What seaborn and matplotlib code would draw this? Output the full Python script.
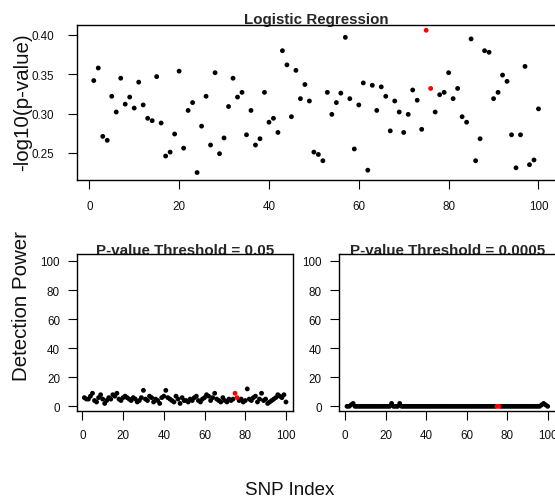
import matplotlib
matplotlib.use("Agg")
import matplotlib.pyplot as plt
import numpy as np
import pandas as pd
import seaborn as sns

# SNP positions along the simulated region
snp_index = list(range(1, 101))

# -log10 p-values from the logistic regression scan
neg_log10_p = [
    0.342, 0.358, 0.271, 0.266, 0.322, 0.302, 0.345, 0.312, 0.321, 0.307,
    0.340, 0.311, 0.294, 0.291, 0.347, 0.288, 0.246, 0.251, 0.274, 0.354,
    0.256, 0.304, 0.314, 0.225, 0.284, 0.322, 0.260, 0.352, 0.249, 0.269,
    0.309, 0.345, 0.321, 0.327, 0.273, 0.304, 0.260, 0.268, 0.327, 0.289,
    0.294, 0.276, 0.380, 0.362, 0.296, 0.355, 0.319, 0.337, 0.316, 0.251,
    0.248, 0.240, 0.327, 0.299, 0.314, 0.326, 0.397, 0.319, 0.255, 0.311,
    0.339, 0.228, 0.336, 0.304, 0.334, 0.322, 0.278, 0.316, 0.302, 0.276,
    0.299, 0.330, 0.317, 0.280, 0.406, 0.332, 0.302, 0.324, 0.327, 0.352,
    0.319, 0.332, 0.296, 0.289, 0.395, 0.240, 0.268, 0.380, 0.378, 0.319,
    0.327, 0.349, 0.341, 0.273, 0.231, 0.273, 0.360, 0.235, 0.241, 0.306,
]

# Detection power (%) at p < 0.05
power_p05 = [
    6, 5, 5, 7, 9, 4, 3, 6, 8, 5,
    2, 4, 6, 5, 8, 7, 9, 5, 4, 6,
    7, 6, 5, 4, 6, 5, 3, 4, 6, 11,
    5, 4, 7, 6, 3, 5, 4, 2, 6, 7,
    11, 6, 5, 4, 3, 7, 5, 2, 6, 4,
    4, 3, 5, 4, 6, 7, 4, 3, 5, 6,
    8, 7, 4, 6, 9, 5, 4, 3, 6, 4,
    3, 5, 4, 5, 9, 6, 4, 5, 3, 4,
    12, 5, 4, 6, 7, 3, 5, 9, 4, 5,
    2, 3, 4, 5, 6, 8, 7, 6, 8, 3,
]

# Detection power (%) at p < 0.0005
power_p0005 = [0] * 100
for snp, val in [(3, 1), (4, 2), (23, 2), (27, 2), (97, 1), (98, 2), (99, 1)]:
    power_p0005[snp - 1] = val

causal_snps = [75, 76]

df = pd.DataFrame({
    "snp": snp_index,
    "neg_log10_p": neg_log10_p,
    "power_p05": power_p05,
    "power_p0005": power_p0005,
})
df["causal"] = df["snp"].isin(causal_snps)
df = df.sort_values("causal", kind="stable")

sns.set_style("white")
plt.rcParams["font.family"] = ["Liberation Sans", "DejaVu Sans"]

W, H = 555, 502
fig = plt.figure(figsize=(W / 100, H / 100), dpi=100)


def box(left, top, right, bottom):
    return [left / W, 1 - bottom / H, (right - left) / W, (bottom - top) / H]


ax_top = fig.add_axes(box(76.7, 26, 556, 181))
ax_lo = fig.add_axes(box(77, 255, 292.7, 412))
ax_hi = fig.add_axes(box(338.7, 255, 555.7, 412))

palette = {False: "black", True: "red"}


def draw(ax, column):
    sns.scatterplot(data=df, x="snp", y=column, hue="causal", palette=palette,
                    hue_order=[False, True], s=12, linewidth=0, legend=False,
                    ax=ax, zorder=3)
    ax.set_xlabel("")
    ax.set_ylabel("")
    for sp in ax.spines.values():
        sp.set_visible(True)
        sp.set_color("black")
        sp.set_linewidth(1.0)
        sp.set_zorder(4)
    ax.tick_params(bottom=True, left=True, direction="out", length=6.3,
                   width=0.8, color="black", labelsize=8.4, labelcolor="#111111")
    ax.set_xticks([0, 20, 40, 60, 80, 100])


draw(ax_top, "neg_log10_p")
ax_top.set_xlim(-2.8, 103.9)
ax_top.set_ylim(0.2155, 0.4127)
ax_top.set_yticks([0.25, 0.30, 0.35, 0.40])
ax_top.set_yticklabels(["0.25", "0.30", "0.35", "0.40"])
ax_top.tick_params(axis="y", pad=10)
ax_top.tick_params(axis="x", pad=8)
t = ax_top.set_title("Logistic Regression", fontsize=10.9, fontweight="bold", pad=1.4)
t.set_zorder(1)

for ax, column, title, xlim in [
    (ax_lo, "power_p05", "P-value Threshold = 0.05", (-2.6, 103.3)),
    (ax_hi, "power_p0005", "P-value Threshold = 0.0005", (-3.1, 103.96)),
]:
    draw(ax, column)
    ax.set_xlim(*xlim)
    ax.set_ylim(-3.2, 104.8)
    ax.set_yticks([0, 20, 40, 60, 80, 100])
    ax.tick_params(axis="y", pad=6)
    ax.tick_params(axis="x", pad=7)
    t = ax.set_title(title, fontsize=10.9, fontweight="bold", pad=0)
    t.set_zorder(1)

fig.text(23 / W, 1 - 102 / H, "-log10(p-value)", rotation=90,
         ha="center", va="center", fontsize=14.8, color="#111111")
fig.text(22 / W, 1 - 306 / H, "Detection Power", rotation=90,
         ha="center", va="center", fontsize=14.8, color="#111111")
fig.text(289.5 / W, 1 - 491 / H, "SNP Index",
         ha="center", va="center", fontsize=13.5, color="#111111")

fig.savefig("out.png", dpi=100)
